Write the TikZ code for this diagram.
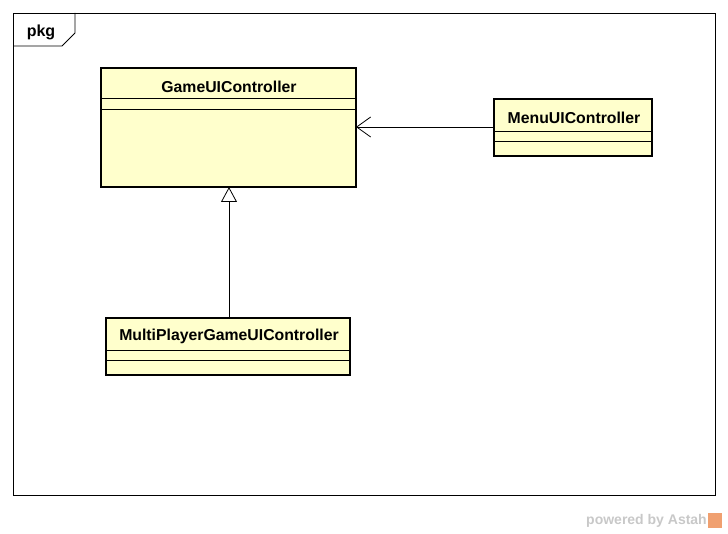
\documentclass[tikz,border=0pt]{standalone}
\usepackage{fontspec}
\setmainfont{Liberation Sans}
\usetikzlibrary{arrows.meta}
\definecolor{clsfill}{HTML}{FFFFCC}
\definecolor{wm}{HTML}{C8C8C8}
\definecolor{wmo}{HTML}{F0A070}
\tikzset{
  clsbox/.style={draw=black, line width=2.6pt, fill=clsfill},
  sep/.style={line width=0.8pt},
  clsname/.style={font=\bfseries\fontsize{15.8}{18}\selectfont, inner sep=0pt},
  conn/.style={line width=0.8pt},
}
\begin{document}
\begin{tikzpicture}[x=1pt,y=-1pt]
\useasboundingbox (0,0) rectangle (728,534);
% package frame
\draw[line width=0.8pt] (13,13) rectangle (715,495);
\draw[line width=0.8pt] (13,46) -- (62,46) -- (75,33) -- (75,13);
\node[font=\bfseries\fontsize{16}{18}\selectfont, inner sep=0pt] (pkg) at (41,32.5) {pkg};
% GameUIController
\draw[clsbox] (101,68) rectangle (356,187);
\draw[sep] (101,98) -- (356,98);
\draw[sep] (101,109) -- (356,109);
\node[clsname] (game) at (229,86.5) {GameUIController};
\coordinate (gameR) at (356,127);
\coordinate (gameB) at (229,187);
% MenuUIController
\draw[clsbox] (494,99) rectangle (652,156);
\draw[sep] (494,131) -- (652,131);
\draw[sep] (494,141) -- (652,141);
\node[clsname] (menu) at (574,117.5) {MenuUIController};
\coordinate (menuL) at (494,127);
% MultiPlayerGameUIController
\draw[clsbox] (106,318) rectangle (350,375);
\draw[sep] (106,350) -- (350,350);
\draw[sep] (106,360) -- (350,360);
\node[clsname] (multi) at (229,336.5) {MultiPlayerGameUIController};
\coordinate (multiT) at (229,318);
% connectors
\draw[conn, -{Straight Barb[length=14pt,width=20pt,line width=0.8pt]}] (menuL) -- (gameR);
\draw[conn, -{Triangle[open,length=15pt,width=16pt,line width=0.8pt,fill=white]}] (multiT) -- (gameB);
% watermark
\node[font=\bfseries\fontsize{14}{16}\selectfont, text=wm, anchor=east, inner sep=0pt] (wmt) at (707,521) {powered by Astah};
\fill[wmo] (708,513) rectangle (722,528);
\end{tikzpicture}
\end{document}
